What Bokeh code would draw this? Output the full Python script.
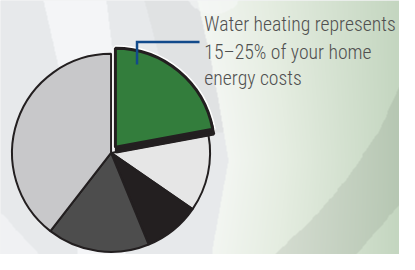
import numpy as np
from bokeh.plotting import figure
from bokeh.models import Range1d, ColumnDataSource
from bokeh.core.properties import value
from bokeh.embed import file_html
from bokeh.resources import INLINE

# ---- data ----
categories = ["Water heating", "Segment 2", "Segment 3", "Segment 4", "Segment 5"]
shares = [22.1, 12.5, 9.2, 16.7, 39.5]          # percent of the pie
colors = ["#337d3c", "#e6e6e6", "#231f20", "#4d4d4d", "#c8c8ca"]
note_lines = ["Water heating represents", "15\u201325% of your home", "energy costs"]

# ---- geometry (reference pixel coordinates, y flipped) ----
W, H = 415, 270
cx, cy, r = 115.0, 270 - 162.0, 103.0

p = figure(width=399, height=254, output_backend="svg", toolbar_location=None,
           x_range=Range1d(0, W), y_range=Range1d(0, H), min_border=0)
p.axis.visible = False
p.grid.visible = False
p.outline_line_color = None
p.background_fill_color = "#e6e8ea"
p.border_fill_color = None

# ---- decorative background ----
yy, xx = np.mgrid[0:H, 0:W] + 0.5
rgb = np.zeros((H, W, 3))
rgb[:] = np.array([231, 233, 235], float)
xg = np.interp(yy, [0, 100, 170, 270], [205, 226, 237, 220])
right = xx >= xg
s = np.clip((xx - xg) / (W - xg), 0, 1)
for c, (a, b, d) in enumerate([(243, 229, 196), (246, 237, 214), (242, 225, 192)]):
    ch = np.interp(s, [0, 0.35, 1], [a, b, d])
    rgb[..., c] = np.where(right, ch, rgb[..., c])
xl = np.interp(yy, [0, 70, 150], [45, 60, 80])
xr = np.interp(yy, [0, 70, 150], [110, 118, 130])
band = (xx > xl) & (xx < xr)
rgb[band] = rgb[band] * 0.3 + np.array([250, 251, 253]) * 0.7
xd1 = np.interp(yy, [0, 60, 130], [150, 165, 190])
dark = (xx > xd1) & (~right) & (yy < 140)
rgb[dark] = rgb[dark] * 0.97
circ = ((xx - 222) ** 2 / 900 + (yy + 15) ** 2 / 900) < 1
rgb[circ] = rgb[circ] * 0.4 + np.array([246, 248, 247]) * 0.6
bl = xx < (yy - 225) * 40 / 45
rgb[bl] = rgb[bl] * 0.4 + np.array([246, 247, 249]) * 0.6
xb1 = np.interp(yy, [92, 140, 190, 230, 270], [415, 393, 360, 327, 285])
xb2 = np.interp(yy, [150, 217, 270], [470, 415, 370])
lr = (xx > xb1) & (xx < xb2) & (yy > 92)
rgb[lr] = rgb[lr] * 0.93
img = np.empty((H, W), dtype=np.uint32)
view = img.view(dtype=np.uint8).reshape((H, W, 4))
view[..., :3] = np.clip(rgb[::-1], 0, 255).astype(np.uint8)
view[..., 3] = 255
p.image_rgba(image=[img], x=0, y=0, dw=W, dh=H)

# ---- pie ----
ang = np.radians(np.array(shares) / sum(shares) * 360.0)
ends = np.pi / 2 - np.concatenate([[0], np.cumsum(ang)[:-1]])
starts = ends - ang
src = ColumnDataSource(dict(cat=categories[1:], start=starts[1:], end=ends[1:], color=colors[1:]))
p.wedge(x=cx, y=cy, radius=r, start_angle="start", end_angle="end", source=src,
        fill_color="color", line_color="#231f20", line_width=2)

# exploded highlighted slice
ox, oy = cx + 4.5, cy + 6.0
p.wedge(x=ox, y=oy, radius=r, start_angle=starts[0], end_angle=ends[0],
        fill_color=None, line_color="white", line_width=6)
p.wedge(x=ox + 1, y=oy - 5, radius=r, start_angle=starts[0], end_angle=ends[0],
        fill_color="#231f20", line_color="#231f20", line_width=3)
p.wedge(x=ox, y=oy, radius=r, start_angle=starts[0], end_angle=ends[0],
        fill_color=colors[0], line_color="#231f20", line_width=3)

# ---- callout ----
p.line(x=[142, 142, 207], y=[270 - 68, 270 - 44, 270 - 44], line_color="#124a8b",
       line_width=2.5, line_join="miter")
p.text(x=[212] * 3, y=[270 - 26, 270 - 55, 270 - 83], text=note_lines,
       text_font=value("Roboto Condensed Light"), text_font_size="19.7px",
       text_color="#505050", text_baseline="alphabetic", text_align="left")

open("out.html", "w").write(file_html(p, INLINE))
